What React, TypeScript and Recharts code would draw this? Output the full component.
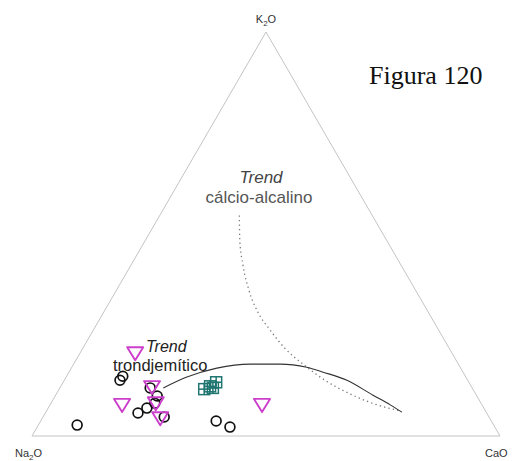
import { ComposedChart, Line, Scatter, XAxis, YAxis } from "recharts";

// ternary values in wt% (Na2O = 100 - K2O - CaO)
const circleK2O = [2.7, 13.8, 14.8, 11.9, 9.9, 8.1, 6.9, 5.7, 4.7, 3.7, 2.2];
const circleCaO = [8.3, 11.9, 12.0, 19.3, 21.8, 22.2, 21.1, 19.8, 25.9, 37.5, 41.2];

const triangleK2O = [20.5, 12.1, 7.7, 8.1, 4.4, 7.7];
const triangleCaO = [11.8, 19.6, 15.4, 22.4, 25.2, 45.3];

const squareK2O = [11.6, 12.3, 13.3, 11.9];
const squareCaO = [31.0, 31.9, 32.7, 32.7];

const calcAlkK2O = [54.6, 48.4, 42.2, 36.1, 30.6, 26.2, 21.7, 17.8, 13.8, 10.4, 7.9, 6.2];
const calcAlkCaO = [17.0, 20.2, 24.0, 28.3, 33.0, 37.8, 43.2, 49.0, 55.7, 62.8, 69.3, 75.6];

const trondK2O = [11.9, 14.6, 16.8, 17.8, 17.8, 17.0, 15.8, 13.8, 10.1, 7.7, 5.9];
const trondCaO = [22.1, 25.8, 31.1, 37.7, 44.1, 50.2, 54.3, 60.4, 67.8, 72.7, 76.1];

const frameK2O = [0, 100, 0, 0];
const frameCaO = [0, 0, 100, 0];

const H = Math.sqrt(3) / 2;

// ternary -> cartesian (Na2O left, CaO right, K2O top)
function toXY(k: number[], ca: number[]) {
  return k.map((v, i) => ({ x: (ca[i] + v / 2) / 100, y: (v / 100) * H }));
}

const circles = toXY(circleK2O, circleCaO);
const triangles = toXY(triangleK2O, triangleCaO);
const squares = toXY(squareK2O, squareCaO);
const calcAlk = toXY(calcAlkK2O, calcAlkCaO);
const trond = toXY(trondK2O, trondCaO);
const frame = toXY(frameK2O, frameCaO);

const Circle = ({ cx, cy }: any) => (
  <circle cx={cx} cy={cy} r={4.9} fill="none" stroke="#111" strokeWidth={1.7} />
);

const DownTriangle = ({ cx, cy }: any) => (
  <path
    d={`M${cx - 8},${cy - 6} L${cx + 8},${cy - 6} L${cx},${cy + 7} Z`}
    fill="none"
    stroke="#cc3fcc"
    strokeWidth={1.9}
    strokeLinejoin="round"
  />
);

const GridSquare = ({ cx, cy }: any) => (
  <g stroke="#1f7570" strokeWidth={1.5} fill="none">
    <rect x={cx - 5.5} y={cy - 5.5} width={11} height={11} />
    <line x1={cx} y1={cy - 5.5} x2={cx} y2={cy + 5.5} />
    <line x1={cx - 5.5} y1={cy} x2={cx + 5.5} y2={cy} />
  </g>
);

const sans = "Liberation Sans, Arial, sans-serif";

export default function App() {
  return (
    <div style={{ position: "absolute", left: 0, top: 0, width: 517, height: 461 }}>
      <ComposedChart
        width={517}
        height={461}
        margin={{ top: 32, right: 17, bottom: 25, left: 32 }}
      >
        <XAxis type="number" dataKey="x" domain={[0, 1]} hide />
        <YAxis type="number" dataKey="y" domain={[0, H]} hide />
        <Line
          data={frame}
          dataKey="y"
          type="linear"
          stroke="#c4c4c4"
          strokeWidth={1}
          dot={false}
          activeDot={false}
          isAnimationActive={false}
        />
        <Line
          data={calcAlk}
          dataKey="y"
          type="monotone"
          stroke="#777"
          strokeWidth={1.3}
          strokeDasharray="1.3 3.2"
          dot={false}
          activeDot={false}
          isAnimationActive={false}
        />
        <Line
          data={trond}
          dataKey="y"
          type="monotone"
          stroke="#333"
          strokeWidth={1.1}
          dot={false}
          activeDot={false}
          isAnimationActive={false}
        />
        <Scatter data={squares} shape={GridSquare} isAnimationActive={false} />
        <Scatter data={circles} shape={Circle} isAnimationActive={false} />
        <Scatter data={triangles} shape={DownTriangle} isAnimationActive={false} />
      </ComposedChart>
      <svg
        width={517}
        height={461}
        style={{ position: "absolute", left: 0, top: 0, pointerEvents: "none" }}
      >
        <text x={266} y={23} textAnchor="middle" fontFamily={sans} fontSize={11} fill="#333">
          K<tspan fontSize={8} dy={3}>2</tspan>
          <tspan dy={-3}>O</tspan>
        </text>
        <text x={15} y={457} fontFamily={sans} fontSize={11} fill="#333">
          Na<tspan fontSize={8} dy={3}>2</tspan>
          <tspan dy={-3}>O</tspan>
        </text>
        <text x={485} y={457} fontFamily={sans} fontSize={11} fill="#333">
          CaO
        </text>
        <text x={369} y={84} fontFamily="Liberation Serif, Times New Roman, serif" fontSize={26} fill="#111">
          Figura 120
        </text>
        <text x={261} y={183} textAnchor="middle" fontFamily={sans} fontSize={17} fontStyle="italic" fill="#444">
          Trend
        </text>
        <text x={259} y={203} textAnchor="middle" fontFamily={sans} fontSize={17} fill="#555">
          cálcio-alcalino
        </text>
        <text x={146} y={352} fontFamily={sans} fontSize={16} fontStyle="italic" fill="#222">
          Trend
        </text>
        <text x={113} y={371} fontFamily={sans} fontSize={16.5} fill="#222">
          trondjemítico
        </text>
      </svg>
    </div>
  );
}
